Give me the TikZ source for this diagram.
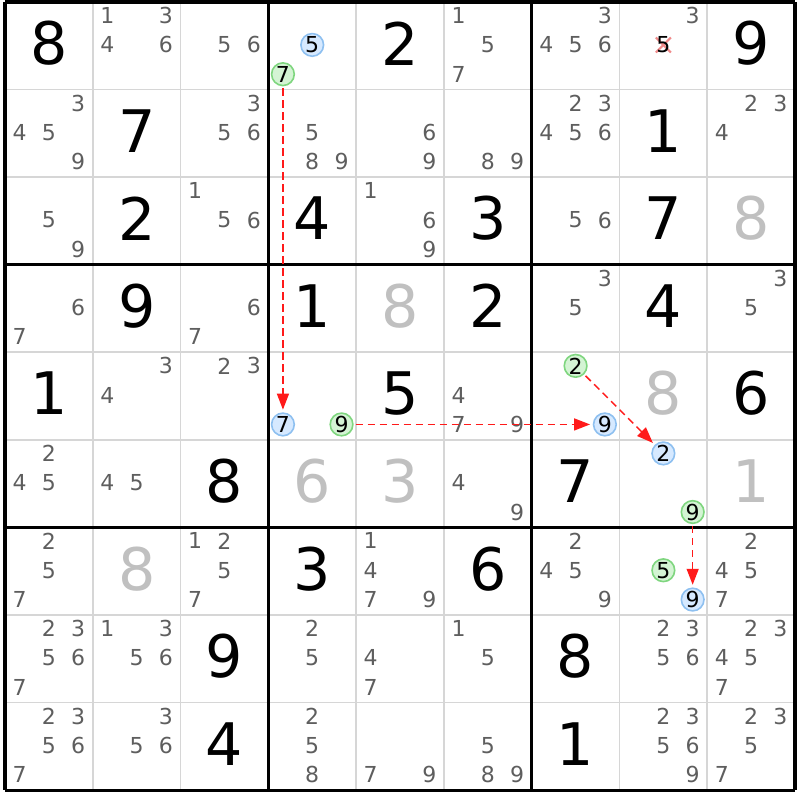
\documentclass[tikz,border=0pt]{standalone}
\usepackage{fontspec}
\setmainfont{DejaVu Sans}
\usetikzlibrary{arrows.meta}
\definecolor{candgray}{HTML}{5E5E5E}
\definecolor{givgray}{HTML}{C0C0C0}
\definecolor{thingrid}{HTML}{D6D6D6}
\definecolor{grfill}{HTML}{D4F4D4}
\definecolor{grline}{HTML}{7FD67F}
\definecolor{blfill}{HTML}{D6E9FF}
\definecolor{blline}{HTML}{8EC0F0}
\definecolor{arrred}{HTML}{FF1A1A}
\definecolor{xred}{HTML}{F08A8A}
\newcommand\CW{87.78}
\newcommand\CH{87.56}
\newcommand\candset[3]{%
  \foreach \k in {#3}{%
    \pgfmathsetmacro\candx{5+(#2-1)*\CW+14.6+mod(\k-1,3)*29.3}%
    \pgfmathsetmacro\candy{2+(#1-1)*\CH+13.6+int((\k-1)/3)*29.3}%
    \node[cand] (c#1#2-\k) at (\candx,\candy) {\k};%
  }}
\newcommand\circd[5]{%
  \pgfmathsetmacro\candx{5+(#2-1)*\CW+14.6+mod(#3-1,3)*29.3}%
  \pgfmathsetmacro\candy{2+(#1-1)*\CH+13.6+int((#3-1)/3)*29.3}%
  \node[#4] (#5) at (\candx,\candy) {#3};}
\newcommand\givendigit[4]{%
  \node[#4] (g#1#2) at ({5+(#2-0.5)*\CW},{2+(#1-0.5)*\CH-2.5}) {#3};}
\begin{document}
\begin{tikzpicture}[x=0.75pt,y=-0.75pt,
  cand/.style={inner sep=0pt, font=\fontsize{16.5}{16.5}\selectfont, text=candgray},
  givenbig/.style={inner sep=0pt, font=\fontsize{44}{44}\selectfont, text=black},
  solvedbig/.style={givenbig, text=givgray},
  greenmark/.style={circle, draw=grline, fill=grfill, line width=1.2pt, minimum size=17pt, inner sep=0pt, font=\fontsize{16.5}{16.5}\selectfont, text=black},
  bluemark/.style={greenmark, draw=blline, fill=blfill},
  link/.style={arrred, line width=1.1pt, dash pattern=on 5.5pt off 3.5pt, -{Triangle[length=12pt,width=9pt]}, shorten >=2pt, shorten <=1.5pt},
  thinline/.style={thingrid, line width=1.2pt},
  thickline/.style={black, line width=2.3pt},
  crossmark/.style={xred, line width=1.6pt}
]
\useasboundingbox (0,0) rectangle (800,800);
\fill[white] (0,0) rectangle (800,800);
% grid
\foreach \i in {1,2,4,5,7,8}{
  \draw[thinline] ({5+\i*\CW},2) -- ({5+\i*\CW},790);
  \draw[thinline] (5,{2+\i*\CH}) -- (795,{2+\i*\CH});
}
\foreach \i in {0,3,6,9}{
  \draw[thickline] ({5+\i*\CW},2) -- ({5+\i*\CW},790);
  \draw[thickline] (5,{2+\i*\CH}) -- (795,{2+\i*\CH});
}
% given digits
\givendigit{1}{1}{8}{givenbig}
\givendigit{1}{5}{2}{givenbig}
\givendigit{1}{9}{9}{givenbig}
\givendigit{2}{2}{7}{givenbig}
\givendigit{2}{8}{1}{givenbig}
\givendigit{3}{2}{2}{givenbig}
\givendigit{3}{4}{4}{givenbig}
\givendigit{3}{6}{3}{givenbig}
\givendigit{3}{8}{7}{givenbig}
\givendigit{3}{9}{8}{solvedbig}
\givendigit{4}{2}{9}{givenbig}
\givendigit{4}{4}{1}{givenbig}
\givendigit{4}{5}{8}{solvedbig}
\givendigit{4}{6}{2}{givenbig}
\givendigit{4}{8}{4}{givenbig}
\givendigit{5}{1}{1}{givenbig}
\givendigit{5}{5}{5}{givenbig}
\givendigit{5}{8}{8}{solvedbig}
\givendigit{5}{9}{6}{givenbig}
\givendigit{6}{3}{8}{givenbig}
\givendigit{6}{4}{6}{solvedbig}
\givendigit{6}{5}{3}{solvedbig}
\givendigit{6}{7}{7}{givenbig}
\givendigit{6}{9}{1}{solvedbig}
\givendigit{7}{2}{8}{solvedbig}
\givendigit{7}{4}{3}{givenbig}
\givendigit{7}{6}{6}{givenbig}
\givendigit{8}{3}{9}{givenbig}
\givendigit{8}{7}{8}{givenbig}
\givendigit{9}{3}{4}{givenbig}
\givendigit{9}{7}{1}{givenbig}
% candidates
\candset{1}{2}{1,3,4,6}
\candset{1}{3}{5,6}
\candset{1}{6}{1,5,7}
\candset{1}{7}{3,4,5,6}
\candset{1}{8}{3}
\candset{2}{1}{3,4,5,9}
\candset{2}{3}{3,5,6}
\candset{2}{4}{5,8,9}
\candset{2}{5}{6,9}
\candset{2}{6}{8,9}
\candset{2}{7}{2,3,4,5,6}
\candset{2}{9}{2,3,4}
\candset{3}{1}{5,9}
\candset{3}{3}{1,5,6}
\candset{3}{5}{1,6,9}
\candset{3}{7}{5,6}
\candset{4}{1}{6,7}
\candset{4}{3}{6,7}
\candset{4}{7}{3,5}
\candset{4}{9}{3,5}
\candset{5}{2}{3,4}
\candset{5}{3}{2,3}
\candset{5}{6}{4,7,9}
\candset{6}{1}{2,4,5}
\candset{6}{2}{4,5}
\candset{6}{6}{4,9}
\candset{7}{1}{2,5,7}
\candset{7}{3}{1,2,5,7}
\candset{7}{5}{1,4,7,9}
\candset{7}{7}{2,4,5,9}
\candset{7}{9}{2,4,5,7}
\candset{8}{1}{2,3,5,6,7}
\candset{8}{2}{1,3,5,6}
\candset{8}{4}{2,5}
\candset{8}{5}{4,7}
\candset{8}{6}{1,5}
\candset{8}{8}{2,3,5,6}
\candset{8}{9}{2,3,4,5,7}
\candset{9}{1}{2,3,5,6,7}
\candset{9}{2}{3,5,6}
\candset{9}{4}{2,5,8}
\candset{9}{5}{7,9}
\candset{9}{6}{5,8,9}
\candset{9}{8}{2,3,5,6,9}
\candset{9}{9}{2,3,5,7}
% eliminated candidate
\coordinate (xc) at ({5+7*\CW+43.9},{2+13.6+29.3});
\draw[crossmark] ([shift={(-7.5,-7.5)}]xc) -- ([shift={(7.5,7.5)}]xc);
\draw[crossmark] ([shift={(-7.5,7.5)}]xc) -- ([shift={(7.5,-7.5)}]xc);
\node[cand, text=black] (c18-5) at (xc) {5};
% marked candidates
\circd{1}{4}{5}{bluemark}{b14-5}
\circd{1}{4}{7}{greenmark}{m14-7}
\circd{5}{4}{7}{bluemark}{b54-7}
\circd{5}{4}{9}{greenmark}{m54-9}
\circd{5}{7}{2}{greenmark}{m57-2}
\circd{5}{7}{9}{bluemark}{b57-9}
\circd{6}{8}{2}{bluemark}{b68-2}
\circd{6}{8}{9}{greenmark}{m68-9}
\circd{7}{8}{5}{greenmark}{m78-5}
\circd{7}{8}{9}{bluemark}{b78-9}
% links
\draw[link] (m14-7) -- (b54-7);
\draw[link] (m54-9) -- (b57-9);
\draw[link] (m57-2) -- (b68-2);
\draw[link] (m68-9) -- (b78-9);
\end{tikzpicture}
\end{document}
